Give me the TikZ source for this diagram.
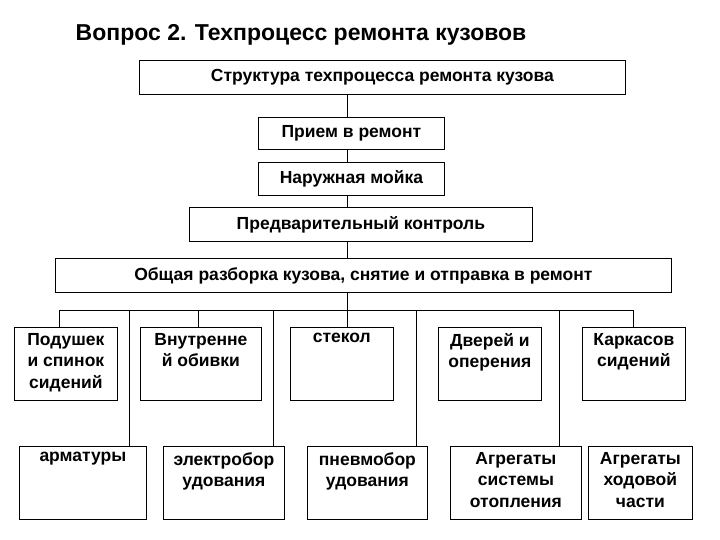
\documentclass[tikz,border=0pt]{standalone}
\usepackage{fontspec}
\setmainfont{Liberation Sans}
\begin{document}
\begin{tikzpicture}[x=1pt,y=-1pt,line width=0.8pt,
  bx/.style={draw,fill=white,font=\bfseries\fontsize{17.5}{21}\selectfont,inner sep=0pt},
  tb/.style={draw,fill=white,anchor=north west,inner sep=0pt},
  tt/.style={align=center,anchor=north,font=\bfseries\fontsize{17.5}{21.5}\selectfont,inner sep=0pt}]
\useasboundingbox (0,0) rectangle (720,540);
\node[anchor=west,font=\bfseries\fontsize{23}{27}\selectfont] (t) at (72,35) {Вопрос 2. Техпроцесс ремонта кузовов};
\newcommand\rbox[6]{\node[bx,minimum width=#4-#2,minimum height=#5-#3,anchor=north west] (#1) at (#2,#3) {#6};}
\rbox{b1}{139}{60}{625}{94}{Структура техпроцесса ремонта кузова}
\rbox{b2}{258}{117}{444}{149}{Прием в ремонт}
\rbox{b3}{258}{162}{444}{195}{Наружная мойка}
\rbox{b4}{189}{207}{532}{241}{Предварительный контроль}
\rbox{b5}{55}{258}{671}{292}{Общая разборка кузова, снятие и отправка в ремонт}
\coordinate (s1) at (347,94);
\draw (s1) -- (347,117) (347,149) -- (347,162) (347,195) -- (347,207) (347,241) -- (347,258) (347,292) -- (347,310);
\coordinate (bl) at (59,310); \coordinate (br) at (633,310);
\draw (bl) -- (br);
\newcommand\tbox[6]{\node[tb,minimum width=#4-#2,minimum height=#5-#3] (#1) at (#2,#3) {};
  \node[tt] (#1t) at ([yshift=-6pt]#1.north) {#6};}
\tbox{a1}{14}{327}{117}{400}{Подушек\\и спинок\\сидений}
\tbox{a2}{140}{327}{261}{400}{Внутренне\\й обивки}
\tbox{a3}{290}{327}{393}{400}{стекол}
\tbox{a4}{438}{327}{541}{400}{Дверей и\\оперения}
\tbox{a5}{582}{327}{685}{400}{Каркасов\\сидений}
\tbox{c1}{19}{446}{146}{519}{арматуры}
\tbox{c2}{163}{446}{284}{519}{электробор\\удования}
\tbox{c3}{307}{446}{427}{519}{пневмобор\\удования}
\tbox{c4}{450}{446}{581}{519}{Агрегаты\\системы\\отопления}
\tbox{c5}{588}{446}{692}{519}{Агрегаты\\ходовой\\части}
\draw (59,310) -- (59,327) (198,310) -- (198,327) (347,310) -- (347,327) (633,310) -- (633,327);
\draw (129,310) -- (129,446) (273,310) -- (273,446) (416,310) -- (416,446) (559,310) -- (559,446);
\end{tikzpicture}
\end{document}
